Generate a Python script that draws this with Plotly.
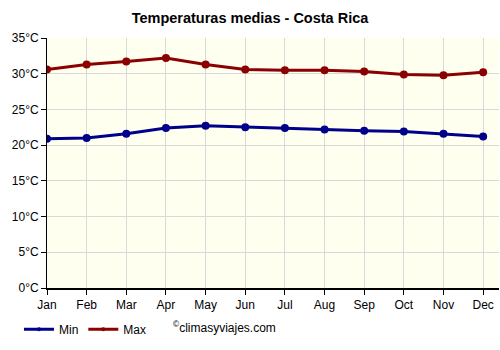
import plotly.graph_objects as go

months = ["Jan", "Feb", "Mar", "Apr", "May", "Jun", "Jul", "Aug", "Sep", "Oct", "Nov", "Dec"]
t_min = [20.9, 21.0, 21.6, 22.4, 22.7, 22.5, 22.4, 22.2, 22.0, 21.9, 21.6, 21.2]
t_max = [30.6, 31.3, 31.7, 32.2, 31.3, 30.6, 30.5, 30.5, 30.3, 29.9, 29.8, 30.2]
y_ticks = [0, 5, 10, 15, 20, 25, 30, 35]
y_tick_labels = [f"{v}°C" for v in y_ticks]

FONT = "Liberation Sans, Arial, sans-serif"
C_MIN = "#00008b"
C_MAX = "#8b0000"

fig = go.Figure()
xs = list(range(len(months)))
fig.add_trace(go.Scatter(
    x=xs, y=t_min, name="Min", mode="lines+markers", showlegend=False,
    line=dict(color=C_MIN, width=3), marker=dict(color=C_MIN, size=8),
))
fig.add_trace(go.Scatter(
    x=xs, y=t_max, name="Max", mode="lines+markers", showlegend=False,
    line=dict(color=C_MAX, width=3), marker=dict(color=C_MAX, size=8),
))
# legend entries (smaller markers like the reference legend)
fig.add_trace(go.Scatter(
    x=[None], y=[None], name="Min", mode="lines+markers",
    line=dict(color=C_MIN, width=3), marker=dict(color=C_MIN, size=4),
))
fig.add_trace(go.Scatter(
    x=[None], y=[None], name="Max", mode="lines+markers",
    line=dict(color=C_MAX, width=3), marker=dict(color=C_MAX, size=4),
))

fig.update_layout(
    width=500, height=350,
    margin=dict(l=47, r=1, t=38, b=62),
    paper_bgcolor="white", plot_bgcolor="#fffff0",
    font=dict(family=FONT, size=12, color="#000"),
    title=dict(text="<b>Temperaturas medias - Costa Rica</b>", x=0.5, xanchor="center",
               y=1 - 18 / 350, yanchor="middle", font=dict(size=14.5, color="#000")),
    showlegend=True,
    legend=dict(orientation="h", x=-0.062, xanchor="left", y=-0.165, yanchor="middle",
                font=dict(size=12, color="#000"), itemwidth=30, bgcolor="rgba(0,0,0,0)"),
    xaxis=dict(
        range=[0, 11.4], tickmode="array", tickvals=xs, ticktext=months,
        showgrid=True, gridcolor="#d9d9d9", gridwidth=1,
        showline=True, linecolor="#000", linewidth=2,
        ticks="outside", ticklen=5, tickcolor="#000", zeroline=False,
        tickfont=dict(size=12, color="#000"),
    ),
    yaxis=dict(
        range=[0, 35], tickmode="array", tickvals=y_ticks, ticktext=y_tick_labels,
        showgrid=True, gridcolor="#d9d9d9", gridwidth=1,
        showline=True, linecolor="#000", linewidth=1,
        ticks="outside", ticklen=5, tickcolor="#000", zeroline=False,
        tickfont=dict(size=12, color="#000"),
    ),
    annotations=[dict(
        text="<sup>©</sup>climasyviajes.com", xref="paper", yref="paper",
        x=(171 - 47) / 452, y=-(327 - 288) / 250, xanchor="left", yanchor="middle",
        showarrow=False, font=dict(size=12, color="#000"),
    )],
)

fig.write_html("out.html")
